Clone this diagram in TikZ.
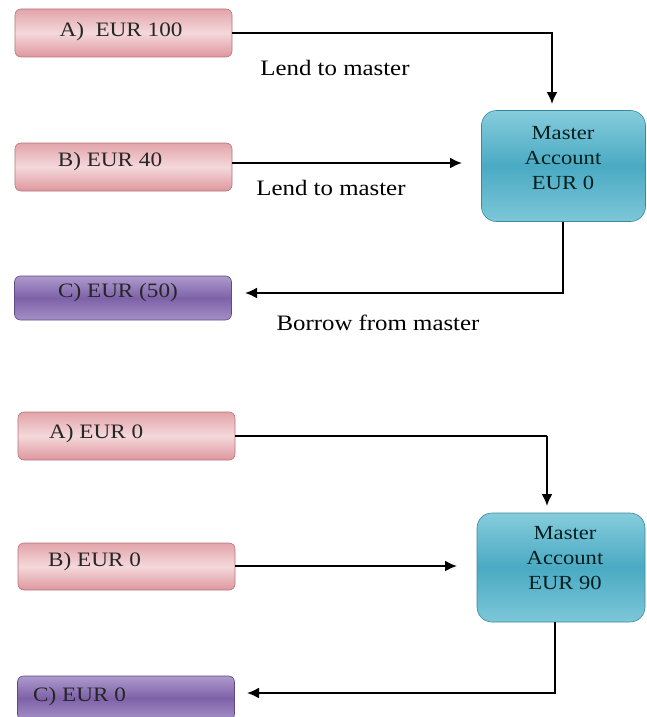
\documentclass[tikz,border=0pt]{standalone}
\usepackage{fontspec}
\setmainfont{Liberation Serif}[FakeStretch=1.13]
\usetikzlibrary{arrows.meta}
\definecolor{pinkedge}{HTML}{B57479}
\definecolor{pinkdark}{HTML}{DE979D}
\definecolor{pinklight}{HTML}{F4D8DB}
\definecolor{purpedge}{HTML}{5E4A85}
\definecolor{purpdark}{HTML}{7E62A8}
\definecolor{purplight}{HTML}{AE9ACD}
\definecolor{tealedge}{HTML}{3A8A9F}
\definecolor{tealdark}{HTML}{4AAAC3}
\definecolor{teallight}{HTML}{86CCDC}
\tikzset{
  pinkbox/.style={draw=pinkedge, line width=0.6pt, rounded corners=6pt, top color=pinkdark!80!pinklight, bottom color=pinkdark, middle color=pinklight, minimum width=217pt, minimum height=48pt, inner sep=0pt},
  purpbox/.style={draw=purpedge, line width=0.6pt, rounded corners=6pt, top color=purplight, bottom color=purplight!80!purpdark, middle color=purpdark, minimum width=217pt, minimum height=44pt, inner sep=0pt},
  masterbox/.style={draw=tealedge, line width=0.6pt, rounded corners=15pt, top color=teallight, bottom color=teallight!85!tealdark, middle color=tealdark, minimum width=164pt, minimum height=111pt, inner sep=0pt},
  boxtext/.style={font=\fontsize{20.5}{24}\selectfont, text=black!85, inner sep=0pt},
  mastertext/.style={font=\fontsize{20}{25}\selectfont, align=center, text=black!75!teal, inner sep=0pt},
  lbl/.style={font=\fontsize{22}{26}\selectfont, inner sep=0pt},
  thick conn/.style={line width=2pt},
  thin conn/.style={line width=1.3pt},
  tip/.style={-{Latex[length=12pt,width=11pt]}}
}
\begin{document}
\begin{tikzpicture}[x=1pt,y=-1pt]
\useasboundingbox (0,0) rectangle (647,717);
% ---- top section ----
\node[pinkbox] (A1) at (123.5,33) {};
\node[boxtext] (A1t) at (121,32) {A)\ \ EUR 100};
\node[pinkbox] (B1) at (123.5,167) {};
\node[boxtext] (B1t) at (110,162) {B) EUR 40};
\node[purpbox] (C1) at (123,298) {};
\node[boxtext] (C1t) at (118,293) {C) EUR (50)};
\node[masterbox] (M1) at (563.5,166) {};
\node[mastertext] (M1t) at (563,158) {Master\\Account\\EUR 0};
\coordinate (k1) at (552,33);
\coordinate (e1) at (552,104);
\coordinate (b1) at (462,163);
\coordinate (m1b) at (563,222);
\coordinate (k2) at (563,293);
\coordinate (c1) at (245,293);
\draw[thick conn, tip] (A1.east |- 0,33) -- (k1) -- (e1);
\draw[thick conn, tip] (B1.east |- 0,163) -- (b1);
\draw[thick conn, tip] (m1b) -- (k2) -- (c1);
\node[lbl] (L1) at (335,68) {Lend to master};
\node[lbl] (L2) at (331,188) {Lend to master};
\node[lbl] (L3) at (378,323) {Borrow from master};
% ---- bottom section ----
\node[pinkbox] (A2) at (126.5,436) {};
\node[boxtext, anchor=west] (A2t) at (49,434) {A) EUR 0};
\node[pinkbox, minimum height=47pt] (B2) at (126.5,566.5) {};
\node[boxtext, anchor=west] (B2t) at (48,562) {B) EUR 0};
\node[purpbox] (C2) at (126,698) {};
\node[boxtext, anchor=west] (C2t) at (33,697) {C) EUR 0};
\node[masterbox, minimum width=168pt, minimum height=109pt] (M2) at (561,567.5) {};
\node[mastertext] (M2t) at (565,558) {Master\\Account\\EUR 90};
\coordinate (k3) at (547,436);
\coordinate (e2) at (547,506);
\coordinate (b2) at (457,566);
\coordinate (m2b) at (555,622);
\coordinate (k4) at (555,693);
\coordinate (c2) at (247,693);
\draw[thin conn] (A2.east |- 0,436) -- (k3);
\draw[thick conn, tip] (k3) -- (e2);
\draw[thick conn, tip] (B2.east |- 0,566) -- (b2);
\draw[thick conn, tip] (m2b) -- (k4) -- (c2);
\end{tikzpicture}
\end{document}
